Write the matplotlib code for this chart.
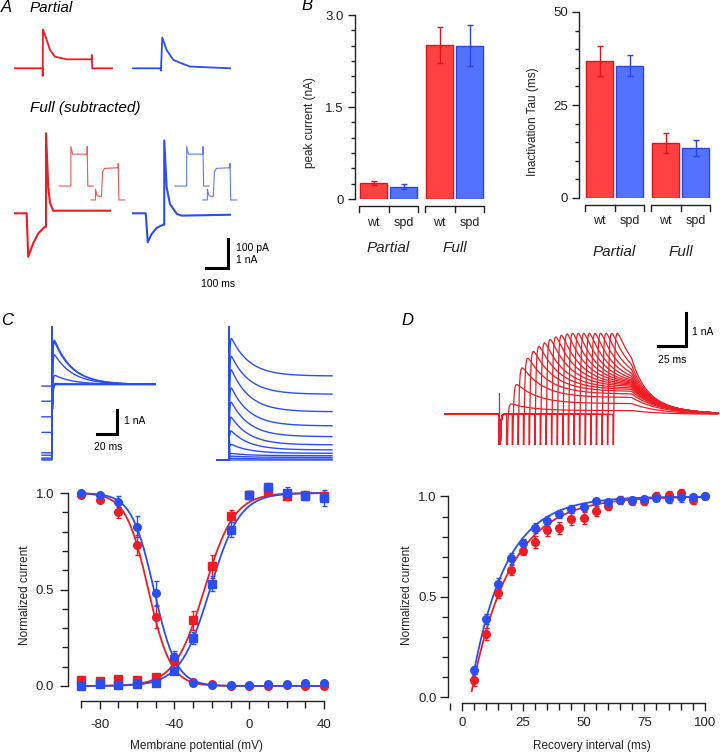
import numpy as np
import matplotlib
matplotlib.use('Agg')
import matplotlib.pyplot as plt
from matplotlib.ticker import MultipleLocator

plt.rcParams['font.family'] = ['Liberation Sans', 'DejaVu Sans']
plt.rcParams['axes.linewidth'] = 1.0

W, H = 720, 753
RED = '#ee1c24'
BLUE = '#2b4ef0'
RED_BAR = '#ff4141'
BLUE_BAR = '#5272ff'
RED_EDGE = '#e0141c'
BLUE_EDGE = '#2a46e6'
INK = '#222222'

# ---------------- A: example traces (t in ms, partial in pA, full in nA) ----------------
part_wt_t = [0, 126, 126, 127, 144, 159, 182, 235, 349, 349, 351, 441]
part_wt_i = [0, 0, -26, 134, 98, 63, 40, 31, 31, 46, 0, 0]
part_spd_t = [0, 125, 127, 133, 153, 183, 221, 259, 441]
part_spd_i = [0, 0, -8, 106, 63, 29, 17, 6, 0]
full_wt_t = [0, 53, 60, 83, 106, 136, 141, 141, 151, 159, 174, 432]
full_wt_i = [0, 0, -1.50, -1.03, -0.69, -0.46, -0.46, 2.76, 0.92, 0.36, 0.09, 0.09]
full_spd_t = [0, 58, 67, 85, 108, 138, 142, 142, 153, 168, 199, 221, 441]
full_spd_i = [0, 0, -1.0, -0.71, -0.50, -0.39, -0.39, 2.51, 0.90, 0.32, -0.02, -0.08, -0.05]
inset1_t = [0, 53, 53, 61, 127, 127, 130, 155]
inset1_i = [0, 0, 1.36, 1.10, 1.10, 1.36, 0, 0]
inset2_t = [0, 21, 21, 29, 48, 53, 62, 124, 124, 127, 155]
inset2_i = [0, 0, 0.37, 0.14, 0.12, 0.97, 1.09, 1.11, 1.26, 0, 0]

# ---------------- B: bar charts ----------------
groups = ['Partial', 'Full']
genos = ['wt', 'spd']
peak_mean = [0.26, 0.20, 2.51, 2.50]
peak_err = [0.03, 0.04, 0.29, 0.33]
tau_mean = [36.8, 35.6, 14.7, 13.4]
tau_err = [4.1, 2.8, 2.7, 2.2]

# ---------------- C: traces ----------------
inact_pre = [0.0, 0.04, 0.08, 0.2, 0.3, 1.15, 1.8, 2.45, 3.08]
inact_peak = [5.3, 5.2, 4.6, 3.6, 3.2, 3.15, 3.15, 3.15, 3.15]
inact_steady = 3.15
act_peak = [5.33, 4.58, 4.04, 3.25, 2.63, 1.96, 1.33, 0.71, 0.29, 0.17, 0.08, 0.0]
act_steady = [3.5, 2.74, 2.01, 1.42, 0.97, 0.63, 0.42, 0.28, 0.18, 0.11, 0.04, 0.0]
cap_amp = 5.54
trace_tau = 18.0

# ---------------- C: steady-state curves ----------------
volts = [-90, -80, -70, -60, -50, -40, -30, -20, -10, 0, 10, 20, 30, 40]
inact_wt = [0.99, 0.965, 0.90, 0.73, 0.36, 0.13, 0.02, 0.01, 0.0, 0.0, 0.0, 0.005, 0.0, 0.0]
inact_wt_err = [0.01, 0.01, 0.03, 0.05, 0.06, 0.03, 0.01, 0.01, 0.01, 0.01, 0.01, 0.01, 0.01, 0.01]
inact_spd = [1.0, 0.99, 0.955, 0.825, 0.48, 0.15, 0.015, 0.005, 0.005, 0.005, 0.01, 0.01, 0.015, 0.015]
inact_spd_err = [0.005, 0.01, 0.03, 0.055, 0.065, 0.03, 0.01, 0.01, 0.01, 0.01, 0.01, 0.01, 0.01, 0.01]
act_wt = [0.03, 0.025, 0.035, 0.03, 0.045, 0.14, 0.34, 0.62, 0.88, 0.99, 1.01, 0.985, 0.99, 0.985]
act_wt_err = [0.01, 0.01, 0.01, 0.01, 0.01, 0.03, 0.05, 0.06, 0.03, 0.02, 0.01, 0.02, 0.02, 0.02]
act_spd = [0.0, 0.01, 0.005, 0.01, 0.015, 0.08, 0.25, 0.53, 0.81, 0.99, 1.03, 1.0, 0.985, 0.975]
act_spd_err = [0.005, 0.01, 0.01, 0.01, 0.01, 0.02, 0.03, 0.04, 0.04, 0.02, 0.02, 0.03, 0.02, 0.04]
# Boltzmann fits: (V1/2, slope)
fit_inact_wt = (-54, 6)
fit_inact_spd = (-51, 6)
fit_act_wt = (-24, 8)
fit_act_spd = (-21, 8)
volt_labels = ['-80', '-40', '0', '40']

# ---------------- D: recovery ----------------
intervals = [5, 10, 15, 20, 25, 30, 35, 40, 45, 50, 55, 60, 65, 70, 75, 80, 85, 90, 95, 100]
rec_wt = [0.087, 0.317, 0.521, 0.633, 0.730, 0.772, 0.831, 0.844, 0.887, 0.892,
          0.928, 0.955, 0.981, 0.979, 0.979, 1.0, 1.008, 1.016, 0.981, 1.0]
rec_wt_err = [0.03, 0.03, 0.025, 0.025, 0.02, 0.03, 0.03, 0.03, 0.03, 0.03,
              0.025, 0.02, 0.02, 0.02, 0.02, 0.02, 0.02, 0.02, 0.02, 0.01]
rec_spd = [0.137, 0.389, 0.566, 0.691, 0.767, 0.842, 0.879, 0.912, 0.939, 0.949,
           0.976, 0.973, 0.984, 0.984, 0.989, 0.992, 0.987, 0.995, 0.995, 1.0]
rec_spd_err = [0.02, 0.025, 0.03, 0.025, 0.02, 0.025, 0.025, 0.02, 0.02, 0.02,
               0.015, 0.015, 0.015, 0.015, 0.015, 0.015, 0.02, 0.02, 0.015, 0.01]
fit_rec_wt = (3.5, 16.0)   # (delay, tau)
fit_rec_spd = (3.0, 14.0)
d_amp = [0.38, 1.09, 1.70, 2.05, 2.30, 2.48, 2.61, 2.74, 2.83, 2.89,
         2.94, 2.96, 2.96, 2.96, 2.96, 2.96, 2.96, 2.96, 2.96, 2.96]
cond_spike = 0.645

fig = plt.figure(figsize=(7.2, 7.53), dpi=100)


def px_axes(x0, y0, x1, y1):
    return fig.add_axes([x0 / W, 1 - y1 / H, (x1 - x0) / W, (y1 - y0) / H])


def ftext(x, y, s, **kw):
    fig.text(x / W, 1 - y / H, s, **kw)


# ===== A =====
axA = px_axes(0, 20, 260, 290)
axA.set_xlim(-15 / 0.22, 245 / 0.22)
axA.set_ylim((213.3 - 290) / 29, (213.3 - 20) / 29)
axA.axis('off')
blue_off = (133 - 15) / 0.22
part_base = 5.0
axA.plot(part_wt_t, part_base + np.array(part_wt_i) / 100, color=RED, lw=1.3)
axA.plot(blue_off + np.array(part_spd_t), part_base + np.array(part_spd_i) / 100, color=BLUE, lw=1.3)
axA.plot(full_wt_t, full_wt_i, color=RED, lw=1.5)
axA.plot(blue_off + np.array(full_spd_t), full_spd_i, color=BLUE, lw=1.5)
for off, col in [(0, RED), (blue_off - 10, BLUE)]:
    axA.plot(off + 201 + np.array(inset1_t), 0.94 + np.array(inset1_i), color=col, lw=0.8, alpha=0.75)
    axA.plot(off + 345 - (18 if off else 0) + np.array(inset2_t), 0.46 + np.array(inset2_i),
             color=col, lw=0.8, alpha=0.75)
axA.plot([868, 968, 968], [-1.886, -1.886, -0.886], color='k', lw=2.2, solid_joinstyle='miter')
ftext(236, 248, '100 pA', fontsize=7.5, va='center')
ftext(236, 260, '1 nA', fontsize=7.5, va='center')
ftext(218, 284, '100 ms', fontsize=7.5, ha='center', va='center')
ftext(6, 8, 'A', fontsize=12, style='italic', ha='center', va='center')
ftext(30, 8, 'Partial', fontsize=11, style='italic', va='center')
ftext(30, 108, 'Full (subtracted)', fontsize=11, style='italic', va='center')


# ===== B =====
def bar_panel(box, means, errs, top, minor, ticklabels, ylabel, g0, lab_px, grp_px, ylab_px):
    x0, y0, x1, y1 = box
    h = y1 - y0
    ax = px_axes(*box)
    ax.set_xlim(0, x1 - x0)
    ax.set_ylim(0, top)
    fills = [RED_BAR, BLUE_BAR]
    edges = [RED_EDGE, BLUE_EDGE]
    tr = ax.get_xaxis_transform()
    for gi in range(2):
        c = g0 + 66 * gi
        for si in range(2):
            k = 2 * gi + si
            xc = c + (si - 0.5) * 30
            ax.bar(xc, means[k], width=27, color=fills[si], edgecolor=edges[si], lw=1)
            ax.errorbar(xc, means[k], yerr=errs[k], color=edges[si], capsize=2,
                        elinewidth=1, capthick=1)
            ax.text(xc, -(lab_px - y1) / h, genos[si], transform=tr, ha='center',
                    va='center', fontsize=9, color=INK)
        b0 = -7 / h
        b1 = -13 / h
        ax.plot([c - 29.5, c - 29.5, c + 29.5, c + 29.5], [b1, b0, b0, b1], transform=tr,
                clip_on=False, color=INK, lw=1)
        ax.plot([c, c], [b0, b1], transform=tr, clip_on=False, color=INK, lw=1)
        ax.text(c, -(grp_px - y1) / h, groups[gi], transform=tr, ha='center', va='center',
                fontsize=11, style='italic', color=INK)
    for s in ['top', 'right', 'bottom']:
        ax.spines[s].set_visible(False)
    ax.spines['left'].set_bounds(0, top)
    ax.spines['left'].set_color(INK)
    ax.set_xticks([])
    ax.set_yticks([0, top / 2, top])
    ax.set_yticklabels(ticklabels)
    ax.yaxis.set_minor_locator(MultipleLocator(minor))
    ax.tick_params(axis='y', which='major', length=5, width=1, pad=3, labelsize=9.5, colors=INK)
    ax.tick_params(axis='y', which='minor', length=3, width=1, colors=INK)
    ax.set_ylabel(ylabel, fontsize=8.5, color=INK)
    ax.yaxis.set_label_coords((ylab_px[0] - x0) / (x1 - x0), (y1 - ylab_px[1]) / h)
    return ax


bar_panel((355, 15, 490, 199), peak_mean, peak_err, 3.0, 0.25, ['0', '1.5', '3.0'],
          'peak current (nA)', 33.5, 223, 248, (316, 122))
bar_panel((579, 12, 714, 198), tau_mean, tau_err, 50, 5, ['0', '25', '50'],
          'Inactivation Tau (ms)', 35.5, 221, 252, (539, 122))
ftext(307, 6, 'B', fontsize=12, style='italic', ha='center', va='center')

# ===== C traces =====
axCt = px_axes(30, 320, 340, 470)
axCt.set_xlim(0, 310)
axCt.set_ylim(-10 / 24, 140 / 24)
axCt.axis('off')


def step_trace(tc, pre, peak, steady):
    s = tc.clip(0)
    after = ((steady + (peak - steady) * np.exp(-s / trace_tau)) * (1 - np.exp(-s / 0.5))
             + cap_amp * np.exp(-s / 0.15))
    return np.where(tc < 0, pre, after)


tl = np.arange(-10, 103, 0.05)
for p, pk in zip(inact_pre, inact_peak):
    axCt.plot(22 + tl, step_trace(tl, p, pk, inact_steady), color=BLUE, lw=1.0)
tr_ = np.arange(-12, 103, 0.05)
for pk, st in zip(act_peak, act_steady):
    axCt.plot(199 + tr_, step_trace(tr_, 0.0, pk, st), color=BLUE, lw=1.0)
axCt.plot([67, 87, 87], [1.083, 1.083, 2.083], color='k', lw=2.2, solid_joinstyle='miter')
ftext(124, 421, '1 nA', fontsize=7.5, va='center')
ftext(108, 447, '20 ms', fontsize=7.5, ha='center', va='center')
ftext(7, 320, 'C', fontsize=12, style='italic', ha='center', va='center')

# ===== C steady-state =====
axC = px_axes(68, 480, 340, 701)
axC.set_xlim(-90 - 13 / 1.869, 40 + 16 / 1.869)
axC.set_ylim(-15 / 193, 206 / 193)
vv = np.linspace(-90, 40, 400)
for (vh, k), col in [(fit_inact_wt, RED), (fit_inact_spd, BLUE)]:
    axC.plot(vv, 1 / (1 + np.exp((vv - vh) / k)), color=col, lw=1.3)
for (vh, k), col in [(fit_act_wt, RED), (fit_act_spd, BLUE)]:
    axC.plot(vv, 1 / (1 + np.exp(-(vv - vh) / k)), color=col, lw=1.3)
for y, e, col, m in [(act_wt, act_wt_err, RED, 's'), (inact_wt, inact_wt_err, RED, 'o'),
                     (act_spd, act_spd_err, BLUE, 's'), (inact_spd, inact_spd_err, BLUE, 'o')]:
    axC.errorbar(volts, y, yerr=e, fmt=m, color=col, ms=5.5, capsize=1.8, elinewidth=1,
                 capthick=1, lw=0)

# ===== D traces =====
axDt = px_axes(440, 300, 720, 445)
axDt.set_xlim((440 - 499.3) / 1.12, (720 - 499.3) / 1.12)
axDt.set_ylim((414.3 - 445) / 33, (414.3 - 300) / 33)
axDt.axis('off')
td = np.arange(-48.5, 195, 0.05)
for iv, amp in zip(intervals, d_amp):
    t0 = iv + 1.5
    s = (td - t0).clip(0)
    test = amp * (1 - np.exp(-s / 1.2)) * (0.3 + 0.7 * np.exp(-s / 18)) - 4 * np.exp(-s / 0.6)
    test = test * np.exp(-(td - 118).clip(0) / 25)
    cond = -4 * np.exp(-td.clip(0) / 0.6)
    cur = np.where(td < 0, 0, np.where(td < t0, cond, test))
    axDt.plot(td, cur, color=RED, lw=0.9)
axDt.plot([0, 0], [-4, cond_spike], color=RED, lw=0.9)
axDt.plot([141.7, 166.7, 166.7], [2.07, 2.07, 3.07], color='k', lw=2.2, solid_joinstyle='miter')
ftext(692, 332, '1 nA', fontsize=7.5, va='center')
ftext(672, 360, '25 ms', fontsize=7.5, ha='center', va='center')
ftext(407, 320, 'D', fontsize=12, style='italic', ha='center', va='center')

# ===== D recovery =====
axD = px_axes(448, 480, 712, 703)
axD.set_xlim(-(462 - 448) / 2.43, 100 + (712 - 705) / 2.43)
axD.set_ylim(-6 / 207, 1 + 17 / 207)
tt = np.linspace(4, 100, 300)
for (d0, tau), col in [(fit_rec_wt, RED), (fit_rec_spd, BLUE)]:
    axD.plot(tt, 1 - np.exp(-(tt - d0) / tau), color=col, lw=1.3)
for y, e, col in [(rec_wt, rec_wt_err, RED), (rec_spd, rec_spd_err, BLUE)]:
    axD.errorbar(intervals, y, yerr=e, fmt='o', color=col, ms=5.5, capsize=1.8,
                 elinewidth=1, capthick=1, lw=0)

for ax, xmaj, xlab, xmin_, xb, xpad, ypad in [
        (axC, [-80, -40, 0, 40], volt_labels, 10, (-90, 40), 7, 4),
        (axD, [0, 25, 50, 75, 100], ['0', '25', '50', '75', '100'], 5, (0, 100), 4, 2)]:
    for s in ['top', 'right']:
        ax.spines[s].set_visible(False)
    ax.spines['left'].set_bounds(0, 1)
    ax.spines['bottom'].set_bounds(*xb)
    ax.spines['left'].set_color(INK)
    ax.spines['bottom'].set_color(INK)
    ax.set_xticks(xmaj)
    ax.set_xticklabels(xlab)
    ax.xaxis.set_minor_locator(MultipleLocator(xmin_))
    ax.set_yticks([0, 0.5, 1.0])
    ax.set_yticklabels(['0.0', '0.5', '1.0'])
    ax.yaxis.set_minor_locator(MultipleLocator(0.1))
    ax.tick_params(axis='x', which='major', length=6, width=1, pad=xpad, labelsize=9.5, colors=INK)
    ax.tick_params(axis='x', which='minor', length=5, width=1, colors=INK)
    ax.tick_params(axis='y', which='major', length=6, width=1, pad=ypad, labelsize=9.5, colors=INK)
    ax.tick_params(axis='y', which='minor', length=4, width=1, colors=INK)

axC.set_ylabel('Normalized current', fontsize=8.5, color=INK)
axC.yaxis.set_label_coords((31 - 68) / 272, (701 - 595) / 221)
axC.set_xlabel('Membrane potential (mV)', fontsize=8.5, color=INK)
axC.xaxis.set_label_coords((197 - 68) / 272, (701 - 740) / 221)
axD.set_ylabel('Normalized current', fontsize=8.5, color=INK)
axD.yaxis.set_label_coords((413 - 448) / 264, (703 - 595) / 223)
axD.set_xlabel('Recovery interval (ms)', fontsize=8.5, color=INK)
axD.xaxis.set_label_coords((592 - 448) / 264, (703 - 740) / 223)

fig.savefig('out.png', dpi=100)
